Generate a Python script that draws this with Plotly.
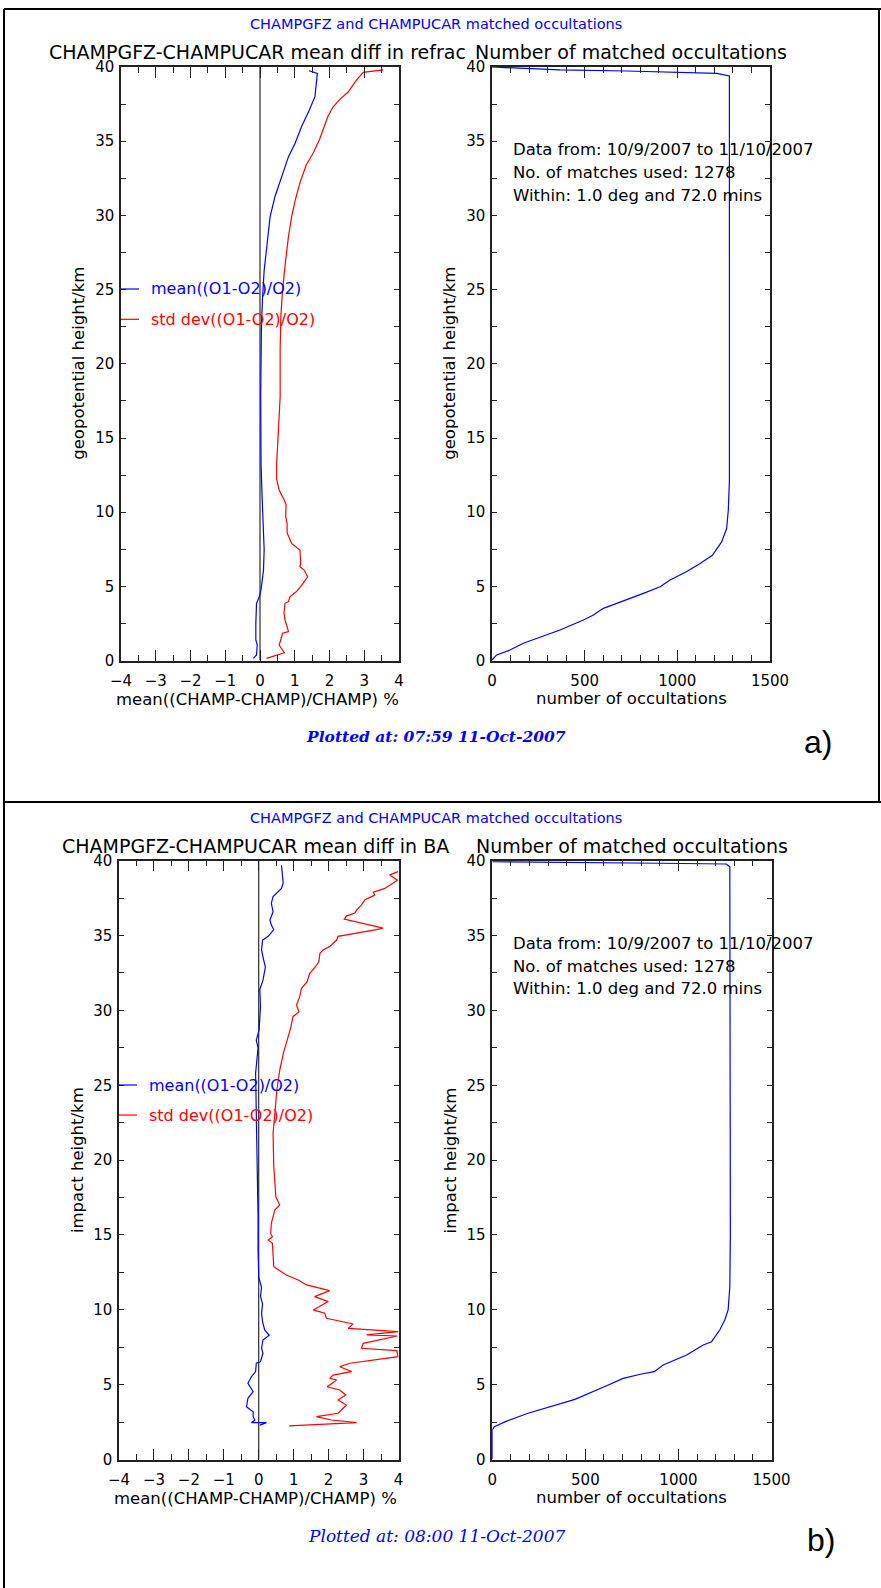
import plotly.graph_objects as go

W, H = 881, 1588


def fx(p):
    return p / W


def fy(p):
    return 1 - p / H


# ---------------- data ----------------
# panel a) refractivity
a_mean_h = [39.75, 39.57, 38.0, 37.1, 36.0, 34.86, 33.96, 32.6, 31.26, 29.9, 27.9, 26.3, 24.3, 22.3,
            17.8, 13.3, 11.05, 8.8, 7.45, 6.1, 4.76, 4.3, 3.86, 2.5, 1.39, 1.05, 0.38, 0.15]
a_mean_val = [1.41, 1.65, 1.58, 1.42, 1.20, 1.01, 0.82, 0.62, 0.43, 0.29, 0.19, 0.12, 0.07, 0.04,
              0.02, 0.03, 0.06, 0.10, 0.12, 0.10, 0.03, -0.02, -0.10, -0.12, -0.12, -0.08, -0.10, -0.19]

a_std_h = [39.8, 39.64, 39.1, 38.3, 37.8, 37.3, 36.65, 36.0, 35.1, 34.2, 33.4, 32.2, 31.0, 29.9, 28.6,
           26.8, 25.0, 23.2, 21.0, 17.8, 15.5, 13.3, 12.2, 11.5, 10.8, 10.5, 9.7, 9.25, 8.6, 7.9,
           7.45, 6.56, 6.33, 6.1, 5.65, 5.2, 4.65, 4.3, 3.97, 3.86, 3.19, 2.74, 1.95, 1.84, 1.27,
           1.05, 0.53, 0.15]
a_std_val = [3.55, 2.97, 2.77, 2.53, 2.29, 2.10, 1.95, 1.84, 1.71, 1.53, 1.33, 1.15, 1.01, 0.91, 0.82,
             0.73, 0.65, 0.60, 0.58, 0.58, 0.53, 0.48, 0.48, 0.55, 0.70, 0.75, 0.74, 0.78, 0.78, 0.91,
             1.15, 1.17, 1.15, 1.27, 1.37, 1.24, 1.05, 0.86, 0.82, 0.72, 0.69, 0.72, 0.82, 0.65, 0.58,
             0.55, 0.70, 0.19]

a_count_h = [40.0, 39.9, 39.8, 39.73, 39.64, 39.57, 39.4, 12.1, 10.15, 8.9, 8.0, 7.1, 6.55, 6.0, 5.43,
             4.98, 4.53, 3.97, 3.52, 3.07, 2.74, 2.06, 1.5, 1.17, 0.71, 0.38, 0.04]
a_count_n = [0, 187, 367, 727, 997, 1213, 1281, 1281, 1275, 1266, 1239, 1189, 1123, 1051, 961,
             907, 817, 691, 601, 547, 493, 367, 241, 169, 97, 25, 0]

# panel b) bending angle
b_mean_h = [39.7, 38.5, 38.15, 37.6, 37.15, 36.6, 36.04, 35.7, 35.4, 34.95, 34.7, 34.04, 33.37, 32.9,
            32.0, 31.4, 30.25, 28.7, 28.0, 27.5, 25.8, 23.57, 21.8, 18.45, 16.2, 14.0, 12.2, 11.5,
            10.9, 10.4, 9.77, 9.2, 8.65, 8.3, 7.98, 7.43, 7.1, 6.53, 6.43, 5.87, 5.53, 5.09, 4.76,
            4.53, 4.09, 3.53, 3.19, 2.86, 2.64, 2.46, 2.46, 2.3]
b_mean_val = [0.65, 0.70, 0.65, 0.41, 0.36, 0.41, 0.32, 0.36, 0.43, 0.27, 0.11, 0.08, 0.14, 0.19,
              0.12, 0.03, 0.05, 0.01, -0.07, -0.02, -0.09, -0.07, -0.07, -0.04, -0.02, -0.02, 0.0, 0.08,
              0.05, 0.11, 0.08, 0.11, 0.17, 0.30, 0.12, 0.08, 0.12, 0.05, -0.07, -0.09, -0.21, -0.31,
              -0.21, -0.16, -0.31, -0.35, -0.16, -0.16, -0.11, -0.21, 0.22, 0.03]

b_std_h = [39.27, 39.05, 38.7, 38.15, 37.9, 37.7, 37.4, 37.05, 36.7, 36.5,
           36.3, 36.1, 35.5, 35.4, 34.95, 34.7, 34.26, 34.04, 33.8, 33.25,
           32.9, 32.47, 31.9, 31.46, 30.9, 30.36, 29.9, 29.58, 28.8, 28.0,
           27.1, 26.0, 24.7, 23.1, 21.8, 19.56, 17.55, 17.0, 16.67, 15.78,
           15.1, 14.88, 14.66, 14.44, 13.55, 12.88, 12.32, 11.99, 11.66, 11.28,
           10.88, 10.55, 9.99, 9.77, 9.43, 9.14, 9.05, 8.76, 8.54, 8.32,
           8.25, 7.76, 7.43, 7.27, 6.87, 6.43, 6.2, 5.87, 5.64, 5.42,
           5.31, 4.86, 4.64, 4.31, 3.97, 3.64, 3.09, 2.86, 2.64, 2.46,
           2.24]
b_std_val = [3.99, 3.75, 3.97, 3.61, 3.28, 3.32, 3.04, 2.94, 2.80, 2.75,
             2.51, 2.45, 3.56, 3.37, 2.27, 2.23, 2.03, 1.84, 1.75, 1.72,
             1.62, 1.46, 1.38, 1.22, 1.17, 1.08, 1.15, 0.98, 0.91, 0.81,
             0.70, 0.60, 0.52, 0.46, 0.41, 0.43, 0.49, 0.60, 0.46, 0.36,
             0.34, 0.39, 0.27, 0.39, 0.41, 0.43, 0.79, 1.13, 1.37, 2.03,
             1.60, 1.99, 1.56, 1.89, 1.94, 2.51, 2.70, 2.56, 3.99, 3.09,
             3.97, 2.99, 2.94, 3.95, 3.99, 2.61, 2.32, 2.66, 2.13, 2.03,
             2.23, 1.96, 2.32, 2.49, 2.27, 2.51, 2.27, 1.65, 2.08, 2.80,
             0.87]

b_count_h = [39.93, 39.87, 39.83, 39.78, 39.6, 15.1, 11.54, 9.99, 9.32, 8.65,
             8.2, 7.87, 7.65, 6.98, 6.31, 5.87, 5.71, 5.42, 4.93, 4.53,
             4.02, 3.09, 2.53, 2.19, 1.97, 0.0]
b_count_n = [0, 363, 900, 1258, 1276, 1279, 1276, 1267, 1249, 1222,
             1196, 1178, 1133, 1044, 918, 870, 802, 703, 614, 542,
             444, 192, 71, 11, 0, 0]

diff_ticks = [-4, -3, -2, -1, 0, 1, 2, 3, 4]
count_ticks = [0, 500, 1000, 1500]
height_ticks = [0, 5, 10, 15, 20, 25, 30, 35, 40]

BLUE = "#0000ff"
RED = "#ff0000"
AX = "#222222"
FONT = "DejaVu Sans"

fig = go.Figure()


def line(x, y, ax, color):
    fig.add_trace(go.Scatter(x=x, y=y, xaxis=ax[0], yaxis=ax[1], mode="lines",
                             line=dict(color=color, width=1.2), showlegend=False,
                             hoverinfo="skip"))


line(a_mean_val, a_mean_h, ("x", "y"), BLUE)
line(a_std_val, a_std_h, ("x", "y"), RED)
line(a_count_n, a_count_h, ("x2", "y2"), BLUE)
line(b_mean_val, b_mean_h, ("x3", "y3"), BLUE)
line(b_std_val, b_std_h, ("x3", "y3"), RED)
line(b_count_n, b_count_h, ("x4", "y4"), BLUE)


def xaxis(domain, rng, ticks, mdtick, anchor):
    return dict(domain=domain, range=rng, tickvals=ticks, ticks="inside", ticklen=11,
                tickwidth=1, tickcolor=AX,
                minor=dict(ticks="inside", ticklen=6, dtick=mdtick, tick0=0, tickcolor=AX, tickwidth=1),
                showline=True, linecolor=AX, linewidth=1.5, mirror="allticks",
                showgrid=False, zeroline=False, ticklabelstandoff=6, automargin=False,
                tickfont=dict(family=FONT, size=15, color="black"), anchor=anchor, fixedrange=True)


def yaxis(domain, anchor):
    return dict(domain=domain, range=[0, 40], tickvals=height_ticks, ticks="inside", ticklen=5,
                tickwidth=1, tickcolor=AX,
                minor=dict(ticks="inside", ticklen=5, dtick=2.5, tick0=0, tickcolor=AX, tickwidth=1),
                showline=True, linecolor=AX, linewidth=1.5, mirror="allticks",
                showgrid=False, zeroline=False, ticklabelstandoff=2, automargin=False,
                tickfont=dict(family=FONT, size=15, color="black"), anchor=anchor, fixedrange=True)


ya = [fy(660.6), fy(67.0)]
yb = [fy(1459.5), fy(860.7)]

fig.update_layout(
    width=W, height=H, margin=dict(l=0, r=0, t=0, b=0, pad=0, autoexpand=False),
    paper_bgcolor="white", plot_bgcolor="white", showlegend=False,
    xaxis=xaxis([fx(121), fx(399)], [-4, 4], diff_ticks, 0.5, "y"),
    yaxis=yaxis(ya, "x"),
    xaxis2=xaxis([fx(492), fx(770)], [0, 1500], count_ticks, 100, "y2"),
    yaxis2=yaxis(ya, "x2"),
    xaxis3=xaxis([fx(119), fx(398.5)], [-4, 4], diff_ticks, 0.5, "y3"),
    yaxis3=yaxis(yb, "x3"),
    xaxis4=xaxis([fx(492.3), fx(771.5)], [0, 1500], count_ticks, 100, "y4"),
    yaxis4=yaxis(yb, "x4"),
)

shapes = []
# zero lines in the difference panels
for xr, yr in (("x", "y"), ("x3", "y3")):
    shapes.append(dict(type="line", xref=xr, yref=yr, x0=0, x1=0, y0=0, y1=40,
                       line=dict(color="black", width=1), layer="below"))
# frame lines
for (x0, y0, x1, y1) in ((4, 9, 881, 9), (4, 9, 4, 1588), (879, 9, 879, 802), (4, 802, 881, 802)):
    shapes.append(dict(type="line", xref="paper", yref="paper", x0=fx(x0), x1=fx(x1),
                       y0=fy(y0), y1=fy(y1), line=dict(color="black", width=2)))

annotations = []


def text(x, y, s, size, color="black", xanchor="left", family=FONT, angle=0):
    annotations.append(dict(x=fx(x), y=fy(y), xref="paper", yref="paper", text=s, showarrow=False,
                            xanchor=xanchor, yanchor="middle", textangle=angle,
                            font=dict(family=family, size=size, color=color)))


panels = [
    dict(top=0, left=(121, 399), right=(492, 770), y0=67.0, y1=660.6,
         title="CHAMPGFZ-CHAMPUCAR mean diff in refrac", title_x=47, title_anchor="left",
         ylab="geopotential height/km", stamp="<b>Plotted at: 07:59 11-Oct-2007</b>",
         stamp_size=15.5, tag="a)", tag_xy=(818, 742), leg=(289, 319.3)),
    dict(top=796, left=(119, 398.5), right=(492.3, 771.5), y0=860.7, y1=1459.5,
         title="CHAMPGFZ-CHAMPUCAR mean diff in BA", title_x=255, title_anchor="center",
         ylab="impact height/km", stamp="Plotted at: 08:00 11-Oct-2007",
         stamp_size=17, tag="b)", tag_xy=(821, 1540), leg=(1085, 1115)),
]

for p in panels:
    t = p["top"]
    text(436, 24 + t * 0.998, "CHAMPGFZ and CHAMPUCAR matched occultations", 14.5, BLUE, "center")
    text(p["title_x"], p["y0"] - 15, p["title"], 19, "black", p["title_anchor"])
    text((p["right"][0] + p["right"][1]) / 2, p["y0"] - 15, "Number of matched occultations", 19,
         "black", "center")
    # axis titles
    text((p["left"][0] + p["left"][1]) / 2 - 3, p["y1"] + 39, "mean((CHAMP-CHAMP)/CHAMP) %", 16.5,
         "black", "center")
    text((p["right"][0] + p["right"][1]) / 2, p["y1"] + 38, "number of occultations", 16.5,
         "black", "center")
    text(p["left"][0] - 42, (p["y0"] + p["y1"]) / 2, p["ylab"], 16.5, "black", "center", angle=-90)
    text(p["right"][0] - 42, (p["y0"] + p["y1"]) / 2, p["ylab"], 16.5, "black", "center", angle=-90)
    # info text
    for i, s in enumerate(["Data from: 10/9/2007 to 11/10/2007", "No. of matches used: 1278",
                           "Within: 1.0 deg and 72.0 mins"]):
        text(510.5, p["y0"] + 83 + i * 22.5, s, 16.5)
    # legend
    lx = p["left"][0]
    for yy, s, c in ((p["leg"][0], "mean((O1-O2)/O2)", BLUE), (p["leg"][1], "std dev((O1-O2)/O2)", RED)):
        shapes.append(dict(type="line", xref="paper", yref="paper", x0=fx(lx), x1=fx(lx + 18),
                           y0=fy(yy), y1=fy(yy), line=dict(color=c, width=1.2)))
        text(lx + 28, yy, s, 16, c)
    # stamp and tag
    text(436, p["y1"] + 76, p["stamp"], p["stamp_size"], BLUE, "center",
         family="DejaVu Serif, serif")
    annotations.append(dict(x=fx(p["tag_xy"][0]), y=fy(p["tag_xy"][1]), xref="paper", yref="paper",
                            text=p["tag"], showarrow=False, xanchor="center", yanchor="middle",
                            font=dict(family="Liberation Sans, Arial", size=32, color="black")))

# italic stamps
for a in annotations:
    if a["text"].startswith("Plotted") or a["text"].startswith("<b>Plotted"):
        a["text"] = "<i>" + a["text"] + "</i>"

fig.update_layout(shapes=shapes, annotations=annotations)
fig.write_html("out.html", config={"displayModeBar": False},
               post_script="document.body.style.margin='0px';document.body.style.padding='0px';"
                           "document.body.style.overflow='hidden';")
